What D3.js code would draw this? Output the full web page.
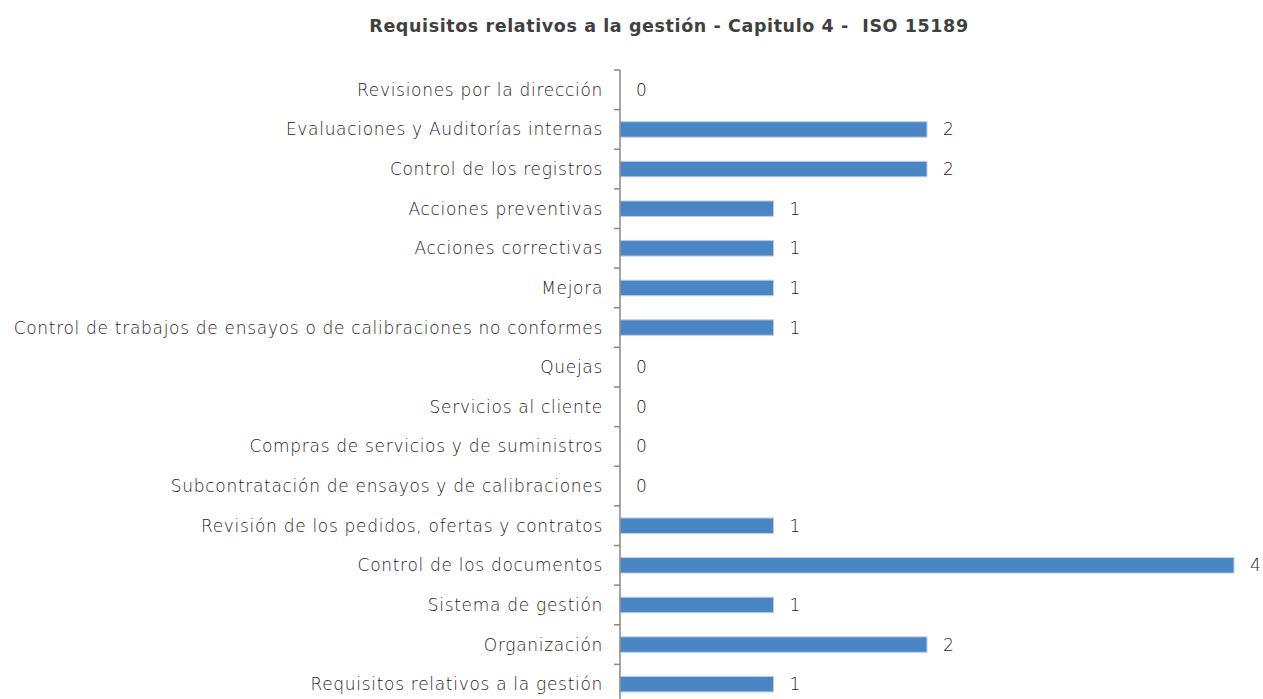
<!DOCTYPE html>
<html>
  <head>
    <meta charset="utf-8">
    <script type="text/javascript" src="https://cdn.jsdelivr.net/npm/d3@7"></script>
    <style>
      body {
        margin: 0;
        background: #fff;
      }
      .chart text {
        font-family: "DejaVu Sans", sans-serif;
        fill: #404040;
      }
      .title {
        font-weight: bold;
        font-size: 17.5px;
        letter-spacing: 0.6px;
        white-space: pre;
      }
      .axis path,
      .axis line {
        fill: none;
        stroke: #898989;
        stroke-width: 1.5px;
      }
      .chart .axis text {
        font-size: 17px;
        font-weight: 200;
        letter-spacing: 0.7px;
        fill: #1e1e1e;
      }
      .chart .label {
        font-size: 17px;
        font-weight: 200;
        fill: #1e1e1e;
      }
      .bar {
        fill: #4a86c6;
        stroke: #b9cfe8;
        stroke-width: 1px;
      }
    </style>
  </head>
  <body>
    <svg class="chart"></svg>

    <script type="text/javascript">
      // chart data, top row first
      var categories = [
        'Revisiones por la dirección',
        'Evaluaciones y Auditorías internas',
        'Control de los registros',
        'Acciones preventivas',
        'Acciones correctivas',
        'Mejora',
        'Control de trabajos de ensayos o de calibraciones no conformes',
        'Quejas',
        'Servicios al cliente',
        'Compras de servicios y de suministros',
        'Subcontratación de ensayos y de calibraciones',
        'Revisión de los pedidos, ofertas y contratos',
        'Control de los documentos',
        'Sistema de gestión',
        'Organización',
        'Requisitos relativos a la gestión'
      ];
      var values = [0, 2, 2, 1, 1, 1, 1, 0, 0, 0, 0, 1, 4, 1, 2, 1];
      var titleText = 'Requisitos relativos a la gestión - Capitulo 4 -  ISO 15189';

      var svgWidth = 1263,
        svgHeight = 699;
      var margin = { top: 70, left: 620 };
      var plotWidth = 614,
        plotHeight = 634;

      var chart = d3
        .select('svg')
        .attr('width', svgWidth)
        .attr('height', svgHeight);

      chart
        .append('text')
        .attr('class', 'title')
        .attr('x', 669)
        .attr('y', 32)
        .attr('text-anchor', 'middle')
        .text(titleText);

      var xScale = d3.scaleLinear().domain([0, 4]).range([0, plotWidth]);
      var yScale = d3
        .scaleBand()
        .domain(categories)
        .range([0, plotHeight])
        .paddingInner(0.61)
        .paddingOuter(0.305);

      var g = chart
        .append('g')
        .attr('transform', 'translate(' + margin.left + ',' + margin.top + ')');

      g.selectAll('.bar')
        .data(values)
        .enter()
        .append('rect')
        .attr('class', 'bar')
        .attr('x', 0)
        .attr('y', function (d, i) {
          return yScale(categories[i]);
        })
        .attr('width', function (d) {
          return xScale(d);
        })
        .attr('height', yScale.bandwidth())
        .style('display', function (d) {
          return d > 0 ? null : 'none';
        });

      // value labels
      g.selectAll('.label')
        .data(values)
        .enter()
        .append('text')
        .attr('class', 'label')
        .attr('x', function (d) {
          return xScale(d) + 16;
        })
        .attr('y', function (d, i) {
          return yScale(categories[i]) + yScale.bandwidth() / 2;
        })
        .attr('dy', '0.35em')
        .text(function (d) {
          return d;
        });

      // category axis with ticks between bands
      var axisG = g.append('g').attr('class', 'axis');
      axisG
        .append('line')
        .attr('x1', 0)
        .attr('x2', 0)
        .attr('y1', 0)
        .attr('y2', plotHeight);
      var step = yScale.step();
      axisG
        .selectAll('.tick')
        .data(d3.range(categories.length + 1))
        .enter()
        .append('line')
        .attr('class', 'tick')
        .attr('x1', -6)
        .attr('x2', 0)
        .attr('y1', function (i) {
          return i * step;
        })
        .attr('y2', function (i) {
          return i * step;
        });
      axisG
        .selectAll('.catLabel')
        .data(categories)
        .enter()
        .append('text')
        .attr('class', 'catLabel')
        .attr('x', -17)
        .attr('y', function (d) {
          return yScale(d) + yScale.bandwidth() / 2;
        })
        .attr('dy', '0.35em')
        .attr('text-anchor', 'end')
        .text(function (d) {
          return d;
        });
    </script>
  </body>
</html>
